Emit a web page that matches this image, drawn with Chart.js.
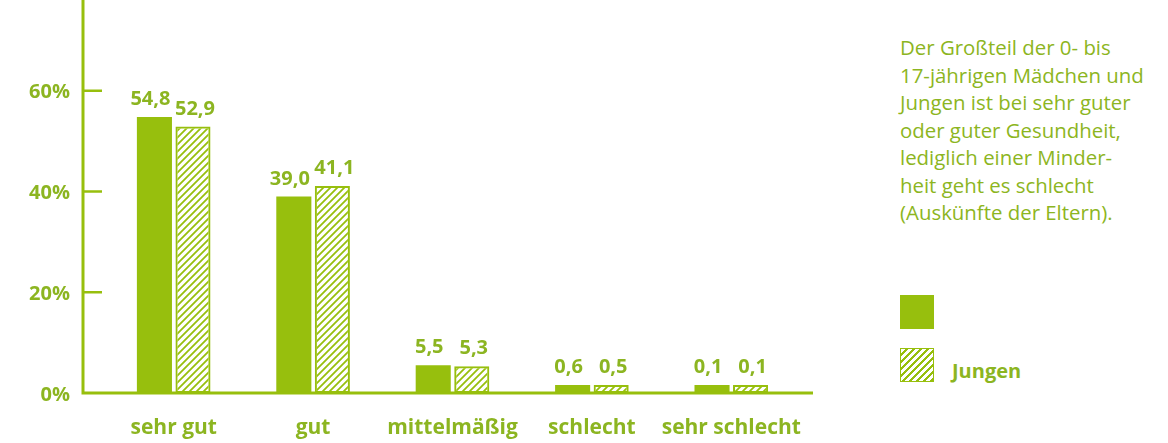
<!DOCTYPE html>
<html lang="de">
<head>
<meta charset="utf-8">
<script src="https://cdn.jsdelivr.net/npm/chart.js@4"></script>
<style>
  html, body { margin: 0; padding: 0; background: #fff; }
  body { width: 1168px; height: 443px; position: relative; overflow: hidden; font-family: "Open Sans", sans-serif; }
  #chartBox { position: absolute; left: 0; top: -56px; width: 830px; height: 499px; }
  #note { position: absolute; left: 900px; top: 34px; color: #8cb521; font-size: 20.4px; line-height: 27.5px; }
  .legend-row { position: absolute; left: 900px; display: flex; align-items: flex-end; }
  .swatch { width: 34px; height: 34px; box-sizing: border-box; }
  .solid { background: #97bf0d; }
  .hatch { border: 1.5px solid #97bf0d; background: repeating-linear-gradient(135deg, #fff 0 3px, #97bf0d 3px 5px); }
  .legend-row span { margin-left: 18px; color: #8cb521; font-weight: bold; font-size: 20px; line-height: 22px; }
</style>
</head>
<body>
<div id="chartBox"><canvas id="healthChart"></canvas></div>
<div id="note">Der Großteil der 0- bis<br>17-jährigen Mädchen und<br>Jungen ist bei sehr guter<br>oder guter Gesundheit,<br>lediglich einer Minder-<br>heit geht es schlecht<br>(Auskünfte der Eltern).</div>
<div class="legend-row" style="top:295px"><div class="swatch solid"></div></div>
<div class="legend-row" style="top:348px"><div class="swatch hatch"></div><span>Jungen</span></div>
<script>
  // data
  const categories = ["sehr gut", "gut", "mittelmäßig", "schlecht", "sehr schlecht"];
  const maedchen = [54.8, 39.0, 5.5, 0.6, 0.1];
  const jungen = [52.9, 41.1, 5.3, 0.5, 0.1];
  const yTicks = [0, 20, 40, 60, 80];

  const green = "#97bf0d";
  const textGreen = "#8cb521";

  // diagonal hatch for the Jungen bars
  function makeHatch() {
    const c = document.createElement("canvas");
    c.width = 7; c.height = 7;
    const g = c.getContext("2d");
    g.strokeStyle = green;
    g.lineWidth = 1.8;
    g.beginPath();
    g.moveTo(-1, 1); g.lineTo(1, -1);
    g.moveTo(0, 7); g.lineTo(7, 0);
    g.moveTo(6, 8); g.lineTo(8, 6);
    g.stroke();
    return g.createPattern(c, "repeat");
  }

  // axis lines + inward tick marks
  const axisPlugin = {
    id: "axisLines",
    afterDatasetsDraw(chart) {
      const { ctx, chartArea } = chart;
      const y = chart.scales.y;
      const x0 = chartArea.left - 21;
      ctx.save();
      ctx.strokeStyle = green;
      ctx.lineWidth = 3;
      ctx.beginPath();
      ctx.moveTo(x0, 0);
      ctx.lineTo(x0, chartArea.bottom + 1.5);
      ctx.moveTo(x0, chartArea.bottom);
      ctx.lineTo(chartArea.right + 12, chartArea.bottom);
      ctx.stroke();
      ctx.lineWidth = 2.5;
      yTicks.forEach(v => {
        if (v === 0) return;
        const py = y.getPixelForValue(v);
        ctx.beginPath();
        ctx.moveTo(x0, py);
        ctx.lineTo(x0 + 19, py);
        ctx.stroke();
      });
      ctx.restore();
    }
  };

  // value labels above bars, nudged apart a little like the original
  const valuePlugin = {
    id: "valueLabels",
    afterDatasetsDraw(chart) {
      const { ctx } = chart;
      ctx.save();
      ctx.fillStyle = textGreen;
      ctx.font = "bold 20px 'Open Sans'";
      ctx.textAlign = "center";
      ctx.textBaseline = "alphabetic";
      chart.data.datasets.forEach((ds, i) => {
        const shift = i === 0 ? -4 : 2;
        chart.getDatasetMeta(i).data.forEach((bar, j) => {
          const txt = ds.data[j].toFixed(1).replace(".", ",");
          ctx.fillText(txt, bar.x + shift, bar.y - 12);
        });
      });
      ctx.restore();
    }
  };

  new Chart(document.getElementById("healthChart"), {
    type: "bar",
    data: {
      labels: categories,
      datasets: [
        { label: "Mädchen", data: maedchen, backgroundColor: green, borderWidth: 0, minBarLength: 8 },
        { label: "Jungen", data: jungen, backgroundColor: makeHatch(), borderColor: green, borderWidth: 2, borderSkipped: false, minBarLength: 8 }
      ]
    },
    options: {
      responsive: true,
      maintainAspectRatio: false,
      animation: false,
      categoryPercentage: 0.553,
      barPercentage: 0.91,
      layout: { padding: { top: 8, right: 29, left: 0, bottom: 0 } },
      plugins: { legend: { display: false }, tooltip: { enabled: false } },
      scales: {
        x: {
          grid: { display: false, drawTicks: false },
          border: { display: false },
          ticks: { color: textGreen, font: { family: "Open Sans", weight: "bold", size: 21 }, padding: 22, maxRotation: 0, autoSkip: false },
          afterFit(scale) { scale.height = 50; }
        },
        y: {
          min: 0, max: 80,
          grid: { display: false, drawTicks: false },
          border: { display: false },
          afterBuildTicks(scale) { scale.ticks = yTicks.map(v => ({ value: v })); },
          ticks: {
            color: textGreen,
            font: { family: "Open Sans", weight: "bold", size: 20 },
            padding: 34,
            labelOffset: 2,
            callback: v => v + "%"
          },
          afterFit(scale) { scale.width = 104; }
        }
      }
    },
    plugins: [axisPlugin, valuePlugin]
  });
</script>
</body>
</html>
